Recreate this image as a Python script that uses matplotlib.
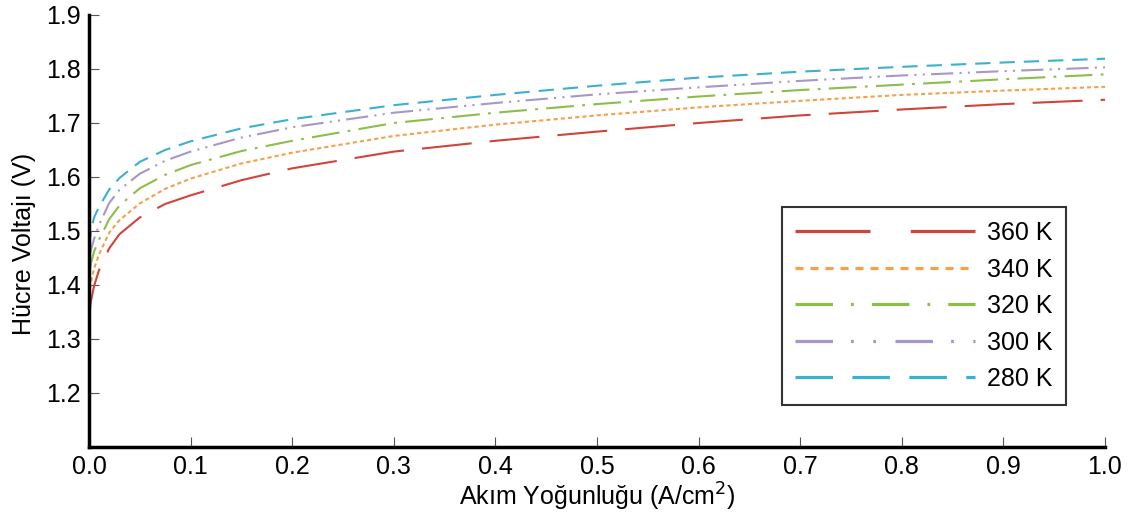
import numpy as np
import matplotlib
matplotlib.use("Agg")
import matplotlib.pyplot as plt
from matplotlib.lines import Line2D

# current density (A/cm^2)
current = [0.0, 0.002, 0.005, 0.01, 0.02, 0.03, 0.05, 0.075, 0.1, 0.15,
           0.2, 0.3, 0.4, 0.5, 0.6, 0.7, 0.8, 0.9, 1.0]

# cell voltage (V) per temperature
v_360 = [1.34, 1.37, 1.398, 1.428, 1.468, 1.494, 1.525, 1.550, 1.566, 1.594,
         1.616, 1.647, 1.667, 1.684, 1.700, 1.714, 1.725, 1.735, 1.743]
v_340 = [1.38, 1.405, 1.43, 1.457, 1.497, 1.520, 1.551, 1.578, 1.597, 1.625,
         1.645, 1.676, 1.697, 1.714, 1.729, 1.741, 1.752, 1.760, 1.767]
v_320 = [1.42, 1.44, 1.462, 1.484, 1.522, 1.547, 1.579, 1.604, 1.622, 1.648,
         1.667, 1.700, 1.719, 1.735, 1.749, 1.761, 1.771, 1.781, 1.790]
v_300 = [1.45, 1.465, 1.485, 1.512, 1.552, 1.576, 1.606, 1.630, 1.647, 1.673,
         1.692, 1.719, 1.737, 1.753, 1.766, 1.778, 1.788, 1.796, 1.803]
v_280 = [1.47, 1.50, 1.525, 1.545, 1.577, 1.598, 1.628, 1.650, 1.666, 1.690,
         1.707, 1.733, 1.752, 1.769, 1.784, 1.795, 1.804, 1.812, 1.819]

labels = ["360 K", "340 K", "320 K", "300 K", "280 K"]
series = [v_360, v_340, v_320, v_300, v_280]
colors = ["#d0443c", "#f5a04a", "#8dbd4a", "#a796c9", "#3bb0cf"]
line_dashes = [(36, 13), (3, 2.2), (20, 6, 2, 6), (16, 4.5, 1.5, 4.5, 1.5, 4.5), (11, 6.5)]
legend_dashes = [(54, 29), (5.8, 5), (27, 13, 2, 13), (27, 13, 2, 14, 2, 14), (27, 14)]

plt.rcParams["font.family"] = ["Liberation Sans", "DejaVu Sans"]
plt.rcParams["lines.scale_dashes"] = False

fig = plt.figure(figsize=(11.36, 5.22), dpi=100)
ax = fig.add_axes([0.0783, 0.1437, 0.8944, 0.8276])

for vals, col, dsh in zip(series, colors, line_dashes):
    ax.plot(current, vals, color=col, lw=1.5, dashes=dsh)

ax.set_xlim(0, 1.0)
ax.set_ylim(1.1, 1.9)
ax.set_xticks(np.arange(0, 1.01, 0.1))
ax.set_yticks(np.arange(1.2, 1.91, 0.1))
ax.xaxis.set_major_formatter(plt.FormatStrFormatter("%.1f"))
ax.yaxis.set_major_formatter(plt.FormatStrFormatter("%.1f"))
ax.tick_params(direction="in", length=7, width=0.8, color="#555555",
               labelsize=18, pad=6)
for s in ["top", "right"]:
    ax.spines[s].set_visible(False)
for s in ["left", "bottom"]:
    ax.spines[s].set_linewidth(2.5)

ax.set_xlabel("Akım Yoğunluğu (A/cm$^2$)", fontsize=18, labelpad=1)
ax.set_ylabel("Hücre Voltajı (V)", fontsize=18, labelpad=7)
ax.yaxis.label.set_y(0.47)

handles = [Line2D([], [], color=c, lw=2.3, dashes=d) for c, d in zip(colors, legend_dashes)]
leg = ax.legend(handles, labels, loc="lower right", bbox_to_anchor=(0.9616, 0.0972),
                borderaxespad=0, fontsize=18, handlelength=7.2, handletextpad=0.45,
                labelspacing=0.5, borderpad=0.55, frameon=True, fancybox=False,
                edgecolor="black")
leg.get_frame().set_linewidth(1.5)

fig.savefig("out.png", dpi=100)
